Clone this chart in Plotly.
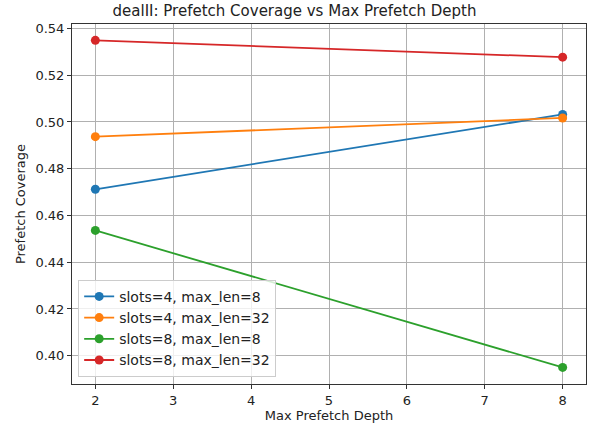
import plotly.graph_objects as go

depths = [2, 8]
series_names = ["slots=4, max_len=8", "slots=4, max_len=32", "slots=8, max_len=8", "slots=8, max_len=32"]
s4_l8 = [0.4712, 0.5032]
s4_l32 = [0.4937, 0.5017]
s8_l8 = [0.4536, 0.3950]
s8_l32 = [0.5349, 0.5277]
colors = ["#1f77b4", "#ff7f0e", "#2ca02c", "#d62728"]
values = [s4_l8, s4_l32, s8_l8, s8_l32]

fig = go.Figure()
for name, vals, c in zip(series_names, values, colors):
    fig.add_trace(go.Scatter(x=depths, y=vals, mode="lines+markers", name=name,
                             line=dict(color=c, width=1.8),
                             marker=dict(color=c, size=9)))

axis_common = dict(showline=True, linecolor="#333", linewidth=1, mirror=True,
                   showgrid=True, gridcolor="#b0b0b0", gridwidth=1,
                   ticks="outside", ticklen=4, tickcolor="#333", zeroline=False,
                   tickfont=dict(size=13, color="#222"))
fig.update_layout(
    width=589, height=429,
    margin=dict(l=72, r=3, t=24, b=45),
    paper_bgcolor="white", plot_bgcolor="white",
    font=dict(family="DejaVu Sans", color="#222"),
    title=dict(text="dealII: Prefetch Coverage vs Max Prefetch Depth", x=0.5, xanchor="center",
               y=0.988, yanchor="top", font=dict(size=15)),
    xaxis=dict(range=[1.7, 8.3], tickvals=[2, 3, 4, 5, 6, 7, 8],
               title=dict(text="Max Prefetch Depth", font=dict(size=13), standoff=4), **axis_common),
    yaxis=dict(range=[0.3879, 0.5419], tickvals=[0.40, 0.42, 0.44, 0.46, 0.48, 0.50, 0.52, 0.54],
               tickformat=".2f",
               title=dict(text="Prefetch Coverage", font=dict(size=13), standoff=6), **axis_common),
    legend=dict(x=0.012, y=0.02, xanchor="left", yanchor="bottom",
                bgcolor="rgba(255,255,255,0.8)", bordercolor="#ccc", borderwidth=1,
                font=dict(size=14), itemwidth=30, tracegroupgap=0),
    showlegend=True,
)
fig.write_html("out.html")
